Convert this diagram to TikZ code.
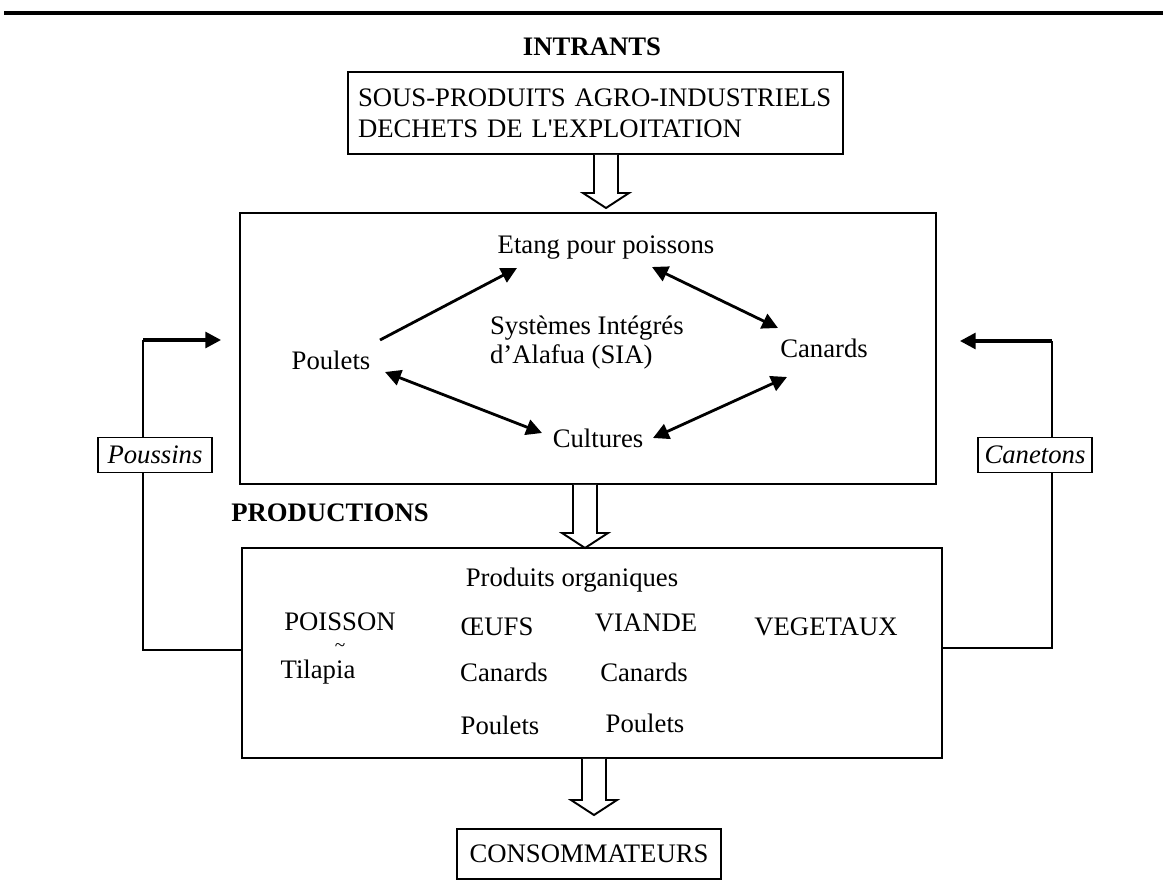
\documentclass[tikz,border=0pt]{standalone}
\usepackage{fontspec}
\setmainfont{Liberation Serif}
\usetikzlibrary{arrows.meta,calc,positioning}
\newcommand{\dfont}{\fontsize{15.2}{17.5}\selectfont}
\tikzset{
  box/.style={draw,line width=1.1pt,inner sep=0pt,align=center},
  lbl/.style={inner sep=1pt},
  ttl/.style={inner sep=1pt,font=\dfont\bfseries},
  side/.style={draw,fill=white,line width=1.1pt,minimum width=2.28cm,minimum height=0.7cm,inner sep=0pt,font=\dfont\itshape},
  arr/.style={-{Triangle[length=9pt,width=9pt]},line width=1.6pt},
  darr/.style={{Triangle[length=9pt,width=9pt]}-{Triangle[length=9pt,width=9pt]},line width=1.6pt},
  feed/.style={line width=1.1pt},
  hollow/.style={draw,fill=white,line width=1.1pt,line join=miter},
}
% hollow block arrow: #1 top of shaft, #2 tip
\newcommand{\blockdown}[2]{%
  \draw[hollow] ($(#1)+(-12,0)$) -- ($(#2)+(-12,-15)$) -- ($(#2)+(-23,-15)$) -- (#2)
    -- ($(#2)+(23,-15)$) -- ($(#2)+(12,-15)$) -- ($(#1)+(12,0)$);}

\begin{document}
\begin{tikzpicture}[x=0.02cm,y=-0.02cm,font=\dfont]
  \useasboundingbox (0,0) rectangle (1163,892);
  \draw[line width=2.3pt] (4,13) -- (1163,13);

  % inputs
  \node[ttl] (intr) at (592,47) {INTRANTS};
  \node[box,align=left,text width=9.5cm,minimum height=1.64cm,inner xsep=0.2cm] (inp) at (595.5,113)
    {SOUS-PRODUITS AGRO-INDUSTRIELS\\DECHETS DE L\textquotesingle EXPLOITATION};

  % system
  \node[box,minimum width=13.92cm,minimum height=5.42cm] (sys) at (588,348.5) {};
  \node[lbl] (etang) at (606,248) {Etang pour poissons};
  \node[lbl,anchor=west,align=left] (sia) at (488,343) {Systèmes Intégrés\\[-1pt]d'Alafua (SIA)};
  \node[lbl] (poulets) at (331,360) {Poulets};
  \node[lbl] (canards) at (824,348) {Canards};
  \node[lbl] (cultures) at (598,438) {Cultures};
  \draw[arr] ($(poulets)+(49,-20)$) -- ($(etang)+(-89,20)$);
  \draw[darr] ($(etang)+(46,19)$) -- ($(canards)+(-46,-20)$);
  \draw[darr] ($(poulets)+(54,12)$) -- ($(cultures)+(-56,-5)$);
  \draw[darr] ($(cultures)+(55,0)$) -- ($(canards)+(-37,29)$);

  % productions
  \node[ttl] (prod) at (330,513) {PRODUCTIONS};
  \node[box,minimum width=14cm,minimum height=4.2cm] (out) at (592,653) {};
  \node[lbl] (org) at (572,580) {Produits organiques};
  \node[lbl] (poisson) at (340,622) {POISSON};
  \node[lbl,font=\fontsize{11}{11}\selectfont] (tld) at (340,648) {\~{}};
  \node[lbl] (tilapia) at (318,672) {Tilapia};
  \node[lbl] (oeufs) at (497,627) {ŒUFS};
  \node[lbl] (ocan) at (504,672) {Canards};
  \node[lbl] (opou) at (500,725) {Poulets};
  \node[lbl] (viande) at (646,623) {VIANDE};
  \node[lbl] (vcan) at (644,672) {Canards};
  \node[lbl] (vpou) at (645,723) {Poulets};
  \node[lbl] (veg) at (826,627) {VEGETAUX};

  \node[box,minimum width=5.28cm,minimum height=1cm] (cons) at (589,854) {CONSOMMATEURS};

  % block arrows
  \coordinate (h1) at (606,208);
  \coordinate (h2) at (585,548);
  \coordinate (h3) at (594,815);
  \blockdown{inp.south -| h1}{h1}
  \blockdown{sys.south -| h2}{h2}
  \blockdown{out.south -| h3}{h3}

  % feedback loops
  \coordinate (lb) at (143,650);
  \coordinate (lt) at (143,340);
  \coordinate (rb) at (1052,648);
  \coordinate (rt) at (1052,341);
  \draw[feed] (out.west |- lb) -- (lb) -- (lt);
  \draw[arr,line width=2pt,shorten >=0.36cm] (lt) -- (sys.west |- lt);
  \draw[feed] (out.east |- rb) -- (rb) -- (rt);
  \draw[arr,line width=2pt,shorten >=0.46cm] (rt) -- (sys.east |- rt);
  \node[side] (pous) at (155,455) {Poussins};
  \node[side] (canet) at (1035,455) {Canetons};
\end{tikzpicture}
\end{document}
